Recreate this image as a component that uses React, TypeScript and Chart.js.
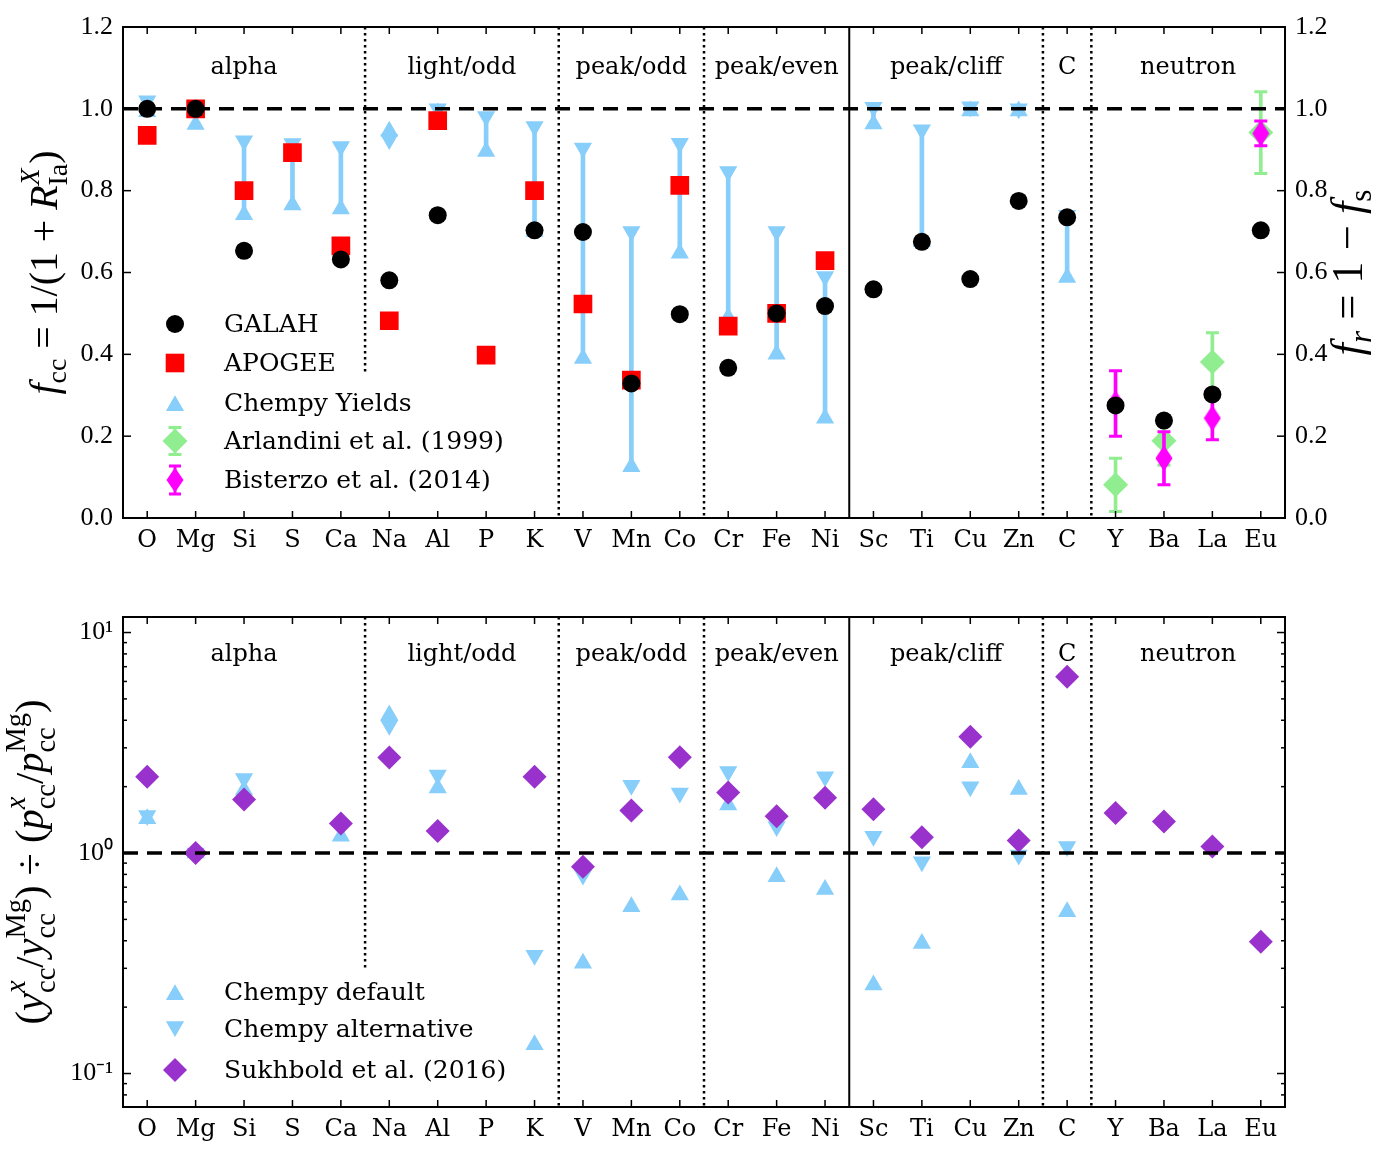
import React, { useEffect, useRef } from 'react';
import { Chart, registerables } from 'chart.js';

Chart.register(...registerables);

// ---------------- data ----------------
const ELEMENTS = ['O', 'Mg', 'Si', 'S', 'Ca', 'Na', 'Al', 'P', 'K', 'V', 'Mn', 'Co', 'Cr', 'Fe', 'Ni', 'Sc', 'Ti', 'Cu', 'Zn', 'C', 'Y', 'Ba', 'La', 'Eu'];

const GROUP_NAMES = ['alpha', 'light/odd', 'peak/odd', 'peak/even', 'peak/cliff', 'C', 'neutron'];
const GROUP_FIRST = [0, 5, 9, 12, 15, 19, 20];
const GROUP_LAST = [4, 8, 11, 14, 18, 19, 23];
const SEPARATOR_AFTER = [4, 8, 11, 14, 18, 19];
const SEPARATOR_SOLID = [false, false, false, true, false, false];

// top panel
const GALAH = [1.0, 1.0, 0.653, null, 0.632, 0.581, 0.740, null, 0.703, 0.699, 0.329, 0.498, 0.367, 0.500, 0.518, 0.559, 0.675, 0.584, 0.775, 0.735, 0.275, 0.238, 0.302, 0.703];
const APOGEE = [0.935, 1.0, 0.800, 0.893, 0.665, 0.482, 0.971, 0.398, 0.800, 0.523, 0.337, 0.813, 0.469, 0.500, 0.629, null, null, null, null, null, null, null, null, null];
const CHEMPY_LOW = [0.993, 0.962, 0.741, 0.765, 0.755, 0.945, 0.99, 0.896, 0.70, 0.39, 0.125, 0.647, 0.49, 0.40, 0.244, 0.963, 0.675, 0.995, 0.995, 0.588, null, null, null, null];
const CHEMPY_HIGH = [1.02, 1.0, 0.922, 0.915, 0.908, 0.925, 1.0, 0.981, 0.957, 0.904, 0.70, 0.916, 0.847, 0.70, 0.59, 1.004, 0.949, 1.005, 1.0, 0.74, null, null, null, null];
const ARLANDINI = [null, null, null, null, null, null, null, null, null, null, null, null, null, null, null, null, null, null, null, null, 0.081, 0.189, 0.381, 0.942];
const ARLANDINI_ERR = [null, null, null, null, null, null, null, null, null, null, null, null, null, null, null, null, null, null, null, null, 0.065, 0.06, 0.072, 0.10];
const BISTERZO = [null, null, null, null, null, null, null, null, null, null, null, null, null, null, null, null, null, null, null, null, 0.28, 0.146, 0.244, 0.94];
const BISTERZO_ERR = [null, null, null, null, null, null, null, null, null, null, null, null, null, null, null, null, null, null, null, null, 0.08, 0.065, 0.053, 0.03];

// bottom panel
const CHEMPY_DEFAULT = [1.43, 1.0, 1.93, null, 1.19, 4.23, 1.97, null, 0.135, 0.316, 0.571, 0.645, 1.65, 0.781, 0.684, 0.252, 0.389, 2.57, 1.94, 0.542, null, null, null, null];
const CHEMPY_ALT = [1.48, 1.0, 2.18, null, 1.3, 3.80, 2.26, null, 0.344, 0.795, 2.03, 1.87, 2.34, 1.32, 2.22, 1.19, 0.913, 2.0, 0.98, 1.07, null, null, null, null];
const SUKHBOLD = [2.22, 1.0, 1.75, null, 1.36, 2.71, 1.26, null, 2.22, 0.867, 1.56, 2.72, 1.88, 1.47, 1.78, 1.58, 1.18, 3.37, 1.14, 6.3, 1.52, 1.39, 1.07, 0.396];

const TOP_Y_TICKS = [0, 0.2, 0.4, 0.6, 0.8, 1.0, 1.2];
const BOTTOM_Y_MAJOR = [0.1, 1, 10];
const BOTTOM_Y_LABELS = ['10⁻¹', '10⁰', '10¹'];
const BOTTOM_Y_MINOR = [0.08, 0.09, 0.2, 0.3, 0.4, 0.5, 0.6, 0.7, 0.8, 0.9, 2, 3, 4, 5, 6, 7, 8, 9];

const TOP_LEGEND = ['GALAH', 'APOGEE', 'Chempy Yields', 'Arlandini et al. (1999)', 'Bisterzo et al. (2014)'];
const BOTTOM_LEGEND = ['Chempy default', 'Chempy alternative', 'Sukhbold et al. (2016)'];

// ---------------- styles ----------------
const BLUE = '#87CEFA';
const GREEN = '#90EE90';
const MAGENTA = '#FF00FF';
const RED = '#FF0000';
const PURPLE = '#9932CC';
const WORD_FONT = 'DejaVu Serif';
const NUM_FONT = 'Liberation Serif';

type Part = { t: string; it?: boolean; s?: number; dy?: number; back?: boolean };

const TOP_LEFT_TITLE: Part[] = [
  { t: 'f', it: true }, { t: 'cc', s: 0.7, dy: 0.22 }, { t: ' = 1/(1 + ' }, { t: 'R', it: true },
  { t: 'Ia', s: 0.7, dy: 0.25 }, { t: 'X', it: true, s: 0.7, dy: -0.45, back: true }, { t: ')' },
];
const TOP_RIGHT_TITLE: Part[] = [
  { t: 'f', it: true }, { t: 'r', it: true, s: 0.7, dy: 0.22 }, { t: ' = 1 − ' }, { t: 'f', it: true }, { t: 's', s: 0.7, dy: 0.22 },
];
const BOTTOM_TITLE: Part[] = [
  { t: '(' }, { t: 'y', it: true }, { t: 'x', it: true, s: 0.7, dy: -0.45 }, { t: 'cc', s: 0.7, dy: 0.28, back: true },
  { t: '/' }, { t: 'y', it: true }, { t: 'Mg', s: 0.7, dy: -0.45 }, { t: 'cc', s: 0.7, dy: 0.28, back: true },
  { t: ') ÷ (' }, { t: 'p', it: true }, { t: 'x', it: true, s: 0.7, dy: -0.45 }, { t: 'cc', s: 0.7, dy: 0.28, back: true },
  { t: '/' }, { t: 'p', it: true }, { t: 'Mg', s: 0.7, dy: -0.45 }, { t: 'cc', s: 0.7, dy: 0.28, back: true }, { t: ')' },
];

function drawRich(ctx: CanvasRenderingContext2D, parts: Part[], cx: number, cy: number, targetLen: number) {
  const measure = (size: number) => {
    let x = 0, prevStart = 0, maxX = 0;
    const out: { t: string; font: string; x: number; dy: number }[] = [];
    for (const p of parts) {
      const sz = size * (p.s ?? 1);
      const font = `${p.it ? 'italic ' : ''}${sz}px "${NUM_FONT}"`;
      ctx.font = font;
      const w = ctx.measureText(p.t).width;
      const start = p.back ? prevStart : x;
      out.push({ t: p.t, font, x: start, dy: (p.dy ?? 0) * size });
      if (!p.back) prevStart = start;
      x = Math.max(x, start + w);
      maxX = Math.max(maxX, start + w);
    }
    return { out, width: maxX };
  };
  const m0 = measure(20);
  const size = (20 * targetLen) / m0.width;
  const m = measure(size);
  ctx.save();
  ctx.translate(cx, cy);
  ctx.rotate(-Math.PI / 2);
  ctx.fillStyle = '#000';
  ctx.textAlign = 'left';
  ctx.textBaseline = 'alphabetic';
  for (const o of m.out) {
    ctx.font = o.font;
    ctx.fillText(o.t, o.x - m.width / 2, o.dy + size * 0.33);
  }
  ctx.restore();
}

function tri(ctx: CanvasRenderingContext2D, x: number, y: number, r: number, down: boolean, color: string) {
  const s = down ? -1 : 1;
  const yc = y + s * 0.25 * r;
  ctx.beginPath();
  ctx.moveTo(x, yc - s * r);
  ctx.lineTo(x + 0.866 * r, yc + s * 0.5 * r);
  ctx.lineTo(x - 0.866 * r, yc + s * 0.5 * r);
  ctx.closePath();
  ctx.fillStyle = color;
  ctx.fill();
}
function diamond(ctx: CanvasRenderingContext2D, x: number, y: number, hw: number, hh: number, color: string) {
  ctx.beginPath();
  ctx.moveTo(x, y - hh);
  ctx.lineTo(x + hw, y);
  ctx.lineTo(x, y + hh);
  ctx.lineTo(x - hw, y);
  ctx.closePath();
  ctx.fillStyle = color;
  ctx.fill();
}
function errbar(ctx: CanvasRenderingContext2D, x: number, y: number, half: number, cap: number, color: string) {
  ctx.strokeStyle = color;
  ctx.lineWidth = 3;
  ctx.beginPath();
  ctx.moveTo(x, y - half); ctx.lineTo(x, y + half);
  ctx.moveTo(x - cap / 2, y - half); ctx.lineTo(x + cap / 2, y - half);
  ctx.moveTo(x - cap / 2, y + half); ctx.lineTo(x + cap / 2, y + half);
  ctx.stroke();
}
function legendMarker(ctx: CanvasRenderingContext2D, kind: string, x: number, y: number) {
  ctx.save();
  if (kind === 'galah') { ctx.beginPath(); ctx.arc(x, y, 9, 0, Math.PI * 2); ctx.fillStyle = '#000'; ctx.fill(); }
  else if (kind === 'apogee') { ctx.fillStyle = RED; ctx.fillRect(x - 9.3, y - 9.3, 18.6, 18.6); }
  else if (kind === 'up') tri(ctx, x, y, 10.5, false, BLUE);
  else if (kind === 'down') tri(ctx, x, y, 10.5, true, BLUE);
  else if (kind === 'arl') { errbar(ctx, x, y, 13.5, 13, GREEN); diamond(ctx, x, y, 12.5, 12.5, GREEN); }
  else if (kind === 'bis') { errbar(ctx, x, y, 14, 12, MAGENTA); diamond(ctx, x, y, 8.5, 12.5, MAGENTA); }
  else if (kind === 'suk') diamond(ctx, x, y, 12, 12, PURPLE);
  ctx.restore();
}

type Decor = {
  yMajor: number[];
  yMinor: number[];
  firstSepStop: number;
  legendLabels: string[];
  legendKinds: string[];
  legendY: number[];
  groupY: number;
  leftTitle: Part[];
  leftTitleX: number;
  leftTitleLen: number;
  rightTitle?: Part[];
  rightTitleX?: number;
  rightTitleLen?: number;
};

function makeDecor(cfg: Decor) {
  return {
    id: 'decor',
    afterDatasetsDraw(chart: any) {
      const { ctx, chartArea: a, scales } = chart;
      const x = scales.x, y = scales.y;
      ctx.save();
      SEPARATOR_AFTER.forEach((idx, k) => {
        const px = (x.getPixelForValue(idx) + x.getPixelForValue(idx + 1)) / 2;
        ctx.beginPath();
        ctx.strokeStyle = '#000';
        if (SEPARATOR_SOLID[k]) { ctx.setLineDash([]); ctx.lineWidth = 2; }
        else { ctx.setLineDash([2.5, 3.5]); ctx.lineWidth = 2.5; }
        const bottom = k === 0 ? y.getPixelForValue(cfg.firstSepStop) : a.bottom;
        ctx.moveTo(px, a.top);
        ctx.lineTo(px, bottom);
        ctx.stroke();
      });
      const py = y.getPixelForValue(1);
      ctx.setLineDash([15, 9]);
      ctx.lineWidth = 3.5;
      ctx.beginPath();
      ctx.moveTo(a.left, py);
      ctx.lineTo(a.right, py);
      ctx.stroke();
      ctx.restore();
    },
    afterDraw(chart: any) {
      const { ctx, chartArea: a, scales } = chart;
      const x = scales.x, y = scales.y;
      ctx.save();
      ctx.strokeStyle = '#000';
      ctx.setLineDash([]);
      ctx.lineWidth = 1.5;
      const seg = (x1: number, y1: number, x2: number, y2: number) => { ctx.beginPath(); ctx.moveTo(x1, y1); ctx.lineTo(x2, y2); ctx.stroke(); };
      ELEMENTS.forEach((_, i) => {
        const px = x.getPixelForValue(i);
        seg(px, a.bottom, px, a.bottom - 7);
        seg(px, a.top, px, a.top + 7);
      });
      cfg.yMajor.forEach((v) => { const p = y.getPixelForValue(v); seg(a.left, p, a.left + 8, p); seg(a.right, p, a.right - 8, p); });
      cfg.yMinor.forEach((v) => { const p = y.getPixelForValue(v); seg(a.left, p, a.left + 4, p); seg(a.right, p, a.right - 4, p); });
      ctx.lineWidth = 2;
      ctx.strokeRect(a.left, a.top, a.right - a.left, a.bottom - a.top);

      ctx.fillStyle = '#000';
      ctx.font = `24px "${WORD_FONT}"`;
      ctx.textAlign = 'center';
      ctx.textBaseline = 'middle';
      GROUP_NAMES.forEach((g, i) => {
        const cx = (x.getPixelForValue(GROUP_FIRST[i]) + x.getPixelForValue(GROUP_LAST[i])) / 2;
        ctx.fillText(g, cx, cfg.groupY);
      });

      cfg.legendLabels.forEach((lab, i) => {
        legendMarker(ctx, cfg.legendKinds[i], a.left + 52, cfg.legendY[i]);
        ctx.fillStyle = '#000';
        ctx.font = `25px "${WORD_FONT}"`;
        ctx.textAlign = 'left';
        ctx.textBaseline = 'middle';
        ctx.fillText(lab, a.left + 101, cfg.legendY[i] + 1);
      });

      const midY = (a.top + a.bottom) / 2;
      drawRich(ctx, cfg.leftTitle, cfg.leftTitleX, midY, cfg.leftTitleLen);
      if (cfg.rightTitle) drawRich(ctx, cfg.rightTitle, cfg.rightTitleX!, midY, cfg.rightTitleLen!);
      ctx.restore();
    },
  };
}

const pair = (c: (number | null)[], e: (number | null)[], sign: number) => c.map((v, i) => (v == null ? null : v + sign * (e[i] as number)));

export default function App() {
  const topRef = useRef<HTMLCanvasElement>(null);
  const botRef = useRef<HTMLCanvasElement>(null);

  useEffect(() => {
    const thin = document.createElement('canvas');
    thin.width = 18; thin.height = 26;
    const tctx = thin.getContext('2d')!;
    tctx.fillStyle = MAGENTA;
    tctx.beginPath(); tctx.moveTo(9, 0); tctx.lineTo(17.5, 13); tctx.lineTo(9, 26); tctx.lineTo(0.5, 13); tctx.closePath(); tctx.fill();

    const xScale = (h: number) => ({
      type: 'category',
      offset: true,
      grid: { display: false, drawTicks: false },
      border: { display: false },
      ticks: { color: '#000', font: { family: WORD_FONT, size: 24 }, padding: 8, autoSkip: false, maxRotation: 0 },
      afterFit: (s: any) => { s.height = h; },
    });
    const tickFont = { family: NUM_FONT, size: 26 };

    const lineDs = (label: string, data: (number | null)[], extra: any) => ({
      type: 'line', label, data, showLine: false, borderColor: 'transparent', pointBorderWidth: 0, ...extra,
    });

    const top = new Chart(topRef.current!, {
      type: 'bar',
      data: {
        labels: ELEMENTS,
        datasets: [
          { type: 'bar', label: 'chempy range', data: CHEMPY_LOW.map((v, i) => (v == null ? null : [v, CHEMPY_HIGH[i]])), backgroundColor: BLUE, barThickness: 4, grouped: false, borderWidth: 0, order: 10 } as any,
          lineDs('Chempy low', CHEMPY_LOW, { pointStyle: 'triangle', pointRadius: 10.5, pointBackgroundColor: BLUE, order: 9 }),
          lineDs('Chempy high', CHEMPY_HIGH, { pointStyle: 'triangle', pointRotation: 180, pointRadius: 10.5, pointBackgroundColor: BLUE, order: 9 }),
          { type: 'bar', label: 'arl err', data: ARLANDINI.map((v, i) => (v == null ? null : [v - (ARLANDINI_ERR[i] as number), v + (ARLANDINI_ERR[i] as number)])), backgroundColor: GREEN, barThickness: 3, grouped: false, borderWidth: 0, order: 8 } as any,
          lineDs('arl cap lo', pair(ARLANDINI, ARLANDINI_ERR, -1), { pointStyle: 'line', pointRadius: 6.5, pointBorderColor: GREEN, pointBorderWidth: 3, order: 8 }),
          lineDs('arl cap hi', pair(ARLANDINI, ARLANDINI_ERR, 1), { pointStyle: 'line', pointRadius: 6.5, pointBorderColor: GREEN, pointBorderWidth: 3, order: 8 }),
          lineDs('Arlandini et al. (1999)', ARLANDINI, { pointStyle: 'rectRot', pointRadius: 12.5, pointBackgroundColor: GREEN, order: 7 }),
          { type: 'bar', label: 'bis err', data: BISTERZO.map((v, i) => (v == null ? null : [v - (BISTERZO_ERR[i] as number), v + (BISTERZO_ERR[i] as number)])), backgroundColor: MAGENTA, barThickness: 3, grouped: false, borderWidth: 0, order: 6 } as any,
          lineDs('bis cap lo', pair(BISTERZO, BISTERZO_ERR, -1), { pointStyle: 'line', pointRadius: 6.5, pointBorderColor: MAGENTA, pointBorderWidth: 3, order: 6 }),
          lineDs('bis cap hi', pair(BISTERZO, BISTERZO_ERR, 1), { pointStyle: 'line', pointRadius: 6.5, pointBorderColor: MAGENTA, pointBorderWidth: 3, order: 6 }),
          lineDs('Bisterzo et al. (2014)', BISTERZO, { pointStyle: thin, pointRadius: 12, order: 5 }),
          lineDs('APOGEE', APOGEE, { pointStyle: 'rect', pointRadius: 13.2, pointBackgroundColor: RED, order: 2 }),
          lineDs('GALAH', GALAH, { pointStyle: 'circle', pointRadius: 9, pointBackgroundColor: '#000', order: 1 }),
        ] as any,
      },
      options: {
        responsive: false,
        animation: false,
        devicePixelRatio: 1,
        events: [],
        layout: { padding: { top: 27, left: 0, right: 0, bottom: 0 } },
        plugins: { legend: { display: false }, tooltip: { enabled: false } },
        scales: {
          x: xScale(60) as any,
          y: {
            type: 'linear', position: 'left', min: 0, max: 1.2,
            afterBuildTicks: (s: any) => { s.ticks = TOP_Y_TICKS.map((v) => ({ value: v })); },
            ticks: { callback: (v: any) => Number(v).toFixed(1), color: '#000', font: tickFont, padding: 10 },
            grid: { display: false, drawTicks: false }, border: { display: false },
            afterFit: (s: any) => { s.width = 123; },
          },
          y2: {
            type: 'linear', position: 'right', min: 0, max: 1.2,
            afterBuildTicks: (s: any) => { s.ticks = TOP_Y_TICKS.map((v) => ({ value: v })); },
            ticks: { callback: (v: any) => Number(v).toFixed(1), color: '#000', font: tickFont, padding: 10 },
            grid: { display: false, drawTicks: false }, border: { display: false },
            afterFit: (s: any) => { s.width = 102; },
          },
        },
      } as any,
      plugins: [makeDecor({
        yMajor: TOP_Y_TICKS, yMinor: [], firstSepStop: 0.35,
        legendLabels: TOP_LEGEND, legendKinds: ['galah', 'apogee', 'up', 'arl', 'bis'],
        legendY: [324, 363, 403, 441, 480], groupY: 68,
        leftTitle: TOP_LEFT_TITLE, leftTitleX: 44, leftTitleLen: 244,
        rightTitle: TOP_RIGHT_TITLE, rightTitleX: 1347, rightTitleLen: 166,
      })],
    });

    const bot = new Chart(botRef.current!, {
      type: 'line',
      data: {
        labels: ELEMENTS,
        datasets: [
          lineDs('Chempy default', CHEMPY_DEFAULT, { pointStyle: 'triangle', pointRadius: 10.5, pointBackgroundColor: BLUE, order: 3 }),
          lineDs('Chempy alternative', CHEMPY_ALT, { pointStyle: 'triangle', pointRotation: 180, pointRadius: 10.5, pointBackgroundColor: BLUE, order: 2 }),
          lineDs('Sukhbold et al. (2016)', SUKHBOLD, { pointStyle: 'rectRot', pointRadius: 12, pointBackgroundColor: PURPLE, order: 1 }),
        ] as any,
      },
      options: {
        responsive: false,
        animation: false,
        devicePixelRatio: 1,
        events: [],
        layout: { padding: { top: 39, left: 0, right: 102, bottom: 0 } },
        plugins: { legend: { display: false }, tooltip: { enabled: false } },
        scales: {
          x: xScale(50) as any,
          y: {
            type: 'logarithmic', position: 'left', min: 0.0705, max: 11.76,
            afterBuildTicks: (s: any) => { s.ticks = BOTTOM_Y_MAJOR.map((v) => ({ value: v })); },
            ticks: { callback: (_v: any, i: number) => BOTTOM_Y_LABELS[i], color: '#000', font: tickFont, padding: 10, autoSkip: false },
            grid: { display: false, drawTicks: false }, border: { display: false },
            afterFit: (s: any) => { s.width = 123; },
          },
        },
      } as any,
      plugins: [makeDecor({
        yMajor: BOTTOM_Y_MAJOR, yMinor: BOTTOM_Y_MINOR, firstSepStop: 0.30,
        legendLabels: BOTTOM_LEGEND, legendKinds: ['up', 'down', 'suk'],
        legendY: [414, 451, 492], groupY: 77,
        leftTitle: BOTTOM_TITLE, leftTitleX: 30, leftTitleLen: 325,
      })],
    });

    return () => { top.destroy(); bot.destroy(); };
  }, []);

  return (
    <div style={{ position: 'absolute', left: 0, top: 0, width: 1387, height: 1157, background: '#fff' }}>
      <canvas ref={topRef} width={1387} height={578} style={{ position: 'absolute', left: 0, top: 0 }} />
      <canvas ref={botRef} width={1387} height={579} style={{ position: 'absolute', left: 0, top: 578 }} />
    </div>
  );
}
